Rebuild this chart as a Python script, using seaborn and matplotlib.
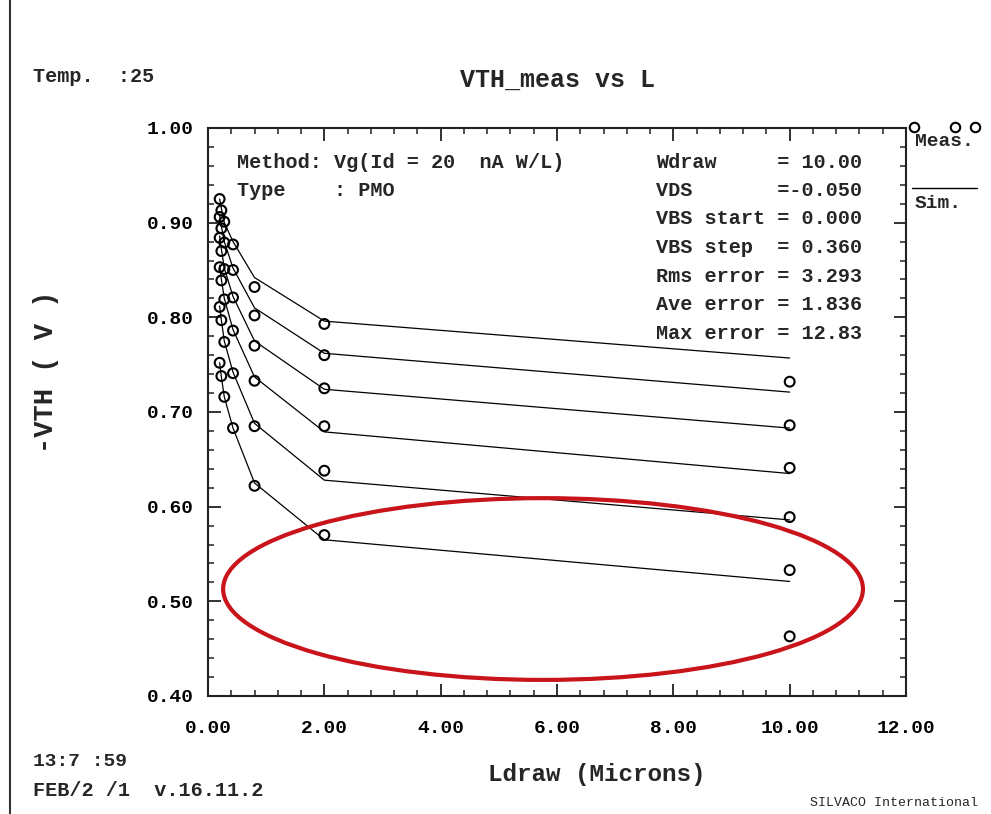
import numpy as np
import pandas as pd
import matplotlib
matplotlib.use("Agg")
import matplotlib.pyplot as plt
from matplotlib.patches import Ellipse
from matplotlib.lines import Line2D
from matplotlib.ticker import MultipleLocator, FormatStrFormatter
import seaborn as sns

# ---------------- data ----------------
L_draw = [0.20, 0.23, 0.28, 0.43, 0.80, 2.00, 10.00]
vbs_values = [0.00, 0.36, 0.72, 1.08, 1.44, 1.80]

meas_vbs0 = [0.925, 0.913, 0.901, 0.877, 0.832, 0.793, 0.732]
meas_vbs1 = [0.906, 0.894, 0.879, 0.850, 0.802, 0.760, 0.686]
meas_vbs2 = [0.884, 0.870, 0.851, 0.821, 0.770, 0.725, 0.641]
meas_vbs3 = [0.853, 0.839, 0.819, 0.786, 0.733, 0.685, 0.589]
meas_vbs4 = [0.811, 0.797, 0.774, 0.741, 0.685, 0.638, 0.533]
meas_vbs5 = [0.752, 0.738, 0.716, 0.683, 0.622, 0.570, 0.463]

sim_vbs0 = [0.925, 0.915, 0.900, 0.880, 0.842, 0.796, 0.757]
sim_vbs1 = [0.908, 0.896, 0.880, 0.852, 0.810, 0.762, 0.721]
sim_vbs2 = [0.886, 0.872, 0.852, 0.822, 0.775, 0.724, 0.683]
sim_vbs3 = [0.855, 0.840, 0.820, 0.787, 0.737, 0.679, 0.635]
sim_vbs4 = [0.812, 0.797, 0.775, 0.742, 0.688, 0.628, 0.586]
sim_vbs5 = [0.752, 0.737, 0.716, 0.683, 0.625, 0.565, 0.521]

meas_all = [meas_vbs0, meas_vbs1, meas_vbs2, meas_vbs3, meas_vbs4, meas_vbs5]
sim_all = [sim_vbs0, sim_vbs1, sim_vbs2, sim_vbs3, sim_vbs4, sim_vbs5]

x_ticks = [0.0, 2.0, 4.0, 6.0, 8.0, 10.0, 12.0]
y_ticks = [0.40, 0.50, 0.60, 0.70, 0.80, 0.90, 1.00]

info_left = ["Method: Vg(Id = 20  nA W/L)", "Type    : PMO"]
info_right = ["Wdraw     = 10.00", "VDS       =-0.050", "VBS start = 0.000",
              "VBS step  = 0.360", "Rms error = 3.293", "Ave error = 1.836",
              "Max error = 12.83"]

meas_df = pd.DataFrame([(L, v, vb) for vb, ys in zip(vbs_values, meas_all)
                        for L, v in zip(L_draw, ys)], columns=["L", "VTH", "VBS"])
sim_df = pd.DataFrame([(L, v, vb) for vb, ys in zip(vbs_values, sim_all)
                       for L, v in zip(L_draw, ys)], columns=["L", "VTH", "VBS"])

# ---------------- style ----------------
sns.set_style("ticks")
FONT = ["Liberation Mono", "DejaVu Sans Mono"]
plt.rcParams["font.family"] = FONT
plt.rcParams["font.weight"] = "bold"

W, H = 991, 814
fig = plt.figure(figsize=(W / 100, H / 100), dpi=100)
fig.patch.set_facecolor("white")

def fx(px):
    return px / W

def fy(py):
    return 1 - py / H

ax = fig.add_axes([fx(208), fy(696), fx(906) - fx(208), fy(128) - fy(696)])
ax.set_facecolor("white")

sns.lineplot(data=sim_df, x="L", y="VTH", units="VBS", estimator=None, sort=False,
             color="black", linewidth=0.9, ax=ax, legend=False)
sns.scatterplot(data=meas_df, x="L", y="VTH", ax=ax, marker="o", s=50,
                facecolors="none", edgecolor="black", linewidth=1.5,
                legend=False, zorder=3)

ax.set_xlim(0, 12)
ax.set_ylim(0.4, 1.0)
ax.set_xticks(x_ticks)
ax.set_yticks(y_ticks)
ax.xaxis.set_major_formatter(FormatStrFormatter("%.2f"))
ax.yaxis.set_major_formatter(FormatStrFormatter("%.2f"))
ax.xaxis.set_minor_locator(MultipleLocator(0.4))
ax.yaxis.set_minor_locator(MultipleLocator(0.02))
ax.tick_params(which="both", direction="in", top=True, right=True, colors="#222222")
ax.tick_params(which="major", length=9, width=1.3, labelsize=14, labelcolor="black")
ax.tick_params(which="minor", length=4, width=1.1)
ax.tick_params(axis="x", which="major", pad=17)
ax.tick_params(axis="y", which="major", pad=10)
for lab in ax.get_xticklabels() + ax.get_yticklabels():
    lab.set_fontweight("bold")
for sp in ax.spines.values():
    sp.set_linewidth(1.5)
    sp.set_color("#222222")

ax.set_xlabel("Ldraw (Microns)", fontsize=17.5, fontweight="bold")
ax.set_ylabel("-VTH ( V )", fontsize=19.5, fontweight="bold")
ax.xaxis.set_label_coords((597 - 208) / 698, (696 - 775) / 568)
ax.yaxis.set_label_coords((46 - 208) / 698, (696 - 372) / 568)
ax.xaxis.label.set_va("center")
ax.yaxis.label.set_va("center")

# info blocks inside the axes
for i, t in enumerate(info_left):
    fig.text(fx(237), fy(162 + 29 * i), t, fontsize=14.5, fontweight="bold",
             ha="left", va="center")
for i, t in enumerate(info_right):
    fig.text(fx(656), fy(162 + 28.5 * i), t, fontsize=14.5, fontweight="bold",
             ha="left", va="center")

# red highlight ellipse
ell = Ellipse((5.76, 0.513), 11.0, 0.192, fill=False, edgecolor="#c8141a",
              linewidth=3.0, zorder=5, clip_on=False)
ax.add_patch(ell)

# title and annotations
fig.text(fx(557), fy(80), "VTH_meas vs L", fontsize=18, fontweight="bold",
         ha="center", va="center")
fig.text(fx(33), fy(77), "Temp.  :25", fontsize=14.5, fontweight="bold",
         ha="left", va="center")
fig.text(fx(33), fy(762), "13:7 :59", fontsize=14, fontweight="bold",
         ha="left", va="center")
fig.text(fx(33), fy(790), "FEB/2 /1  v.16.11.2", fontsize=14.5, fontweight="bold",
         ha="left", va="center")
fig.text(fx(978), fy(803), "SILVACO International", fontsize=9.5, fontweight="normal",
         ha="right", va="center")

# legend outside the axes
fig.add_artist(Line2D([fx(914), fx(955), fx(975)], [fy(127)] * 3, linestyle="none",
                      marker="o", markersize=6.8, markerfacecolor="none",
                      markeredgecolor="black", markeredgewidth=1.5))
fig.text(fx(915), fy(142), "Meas.", fontsize=14, fontweight="bold", ha="left", va="center")
fig.add_artist(Line2D([fx(912), fx(977)], [fy(188), fy(188)], color="black", linewidth=1.0))
fig.text(fx(915), fy(203), "Sim.", fontsize=14, fontweight="bold", ha="left", va="center")

# left frame border of the plot window
fig.add_artist(Line2D([fx(10), fx(10)], [0, 1], color="#333333", linewidth=1.5))

fig.savefig("out.png", dpi=100, facecolor="white")
